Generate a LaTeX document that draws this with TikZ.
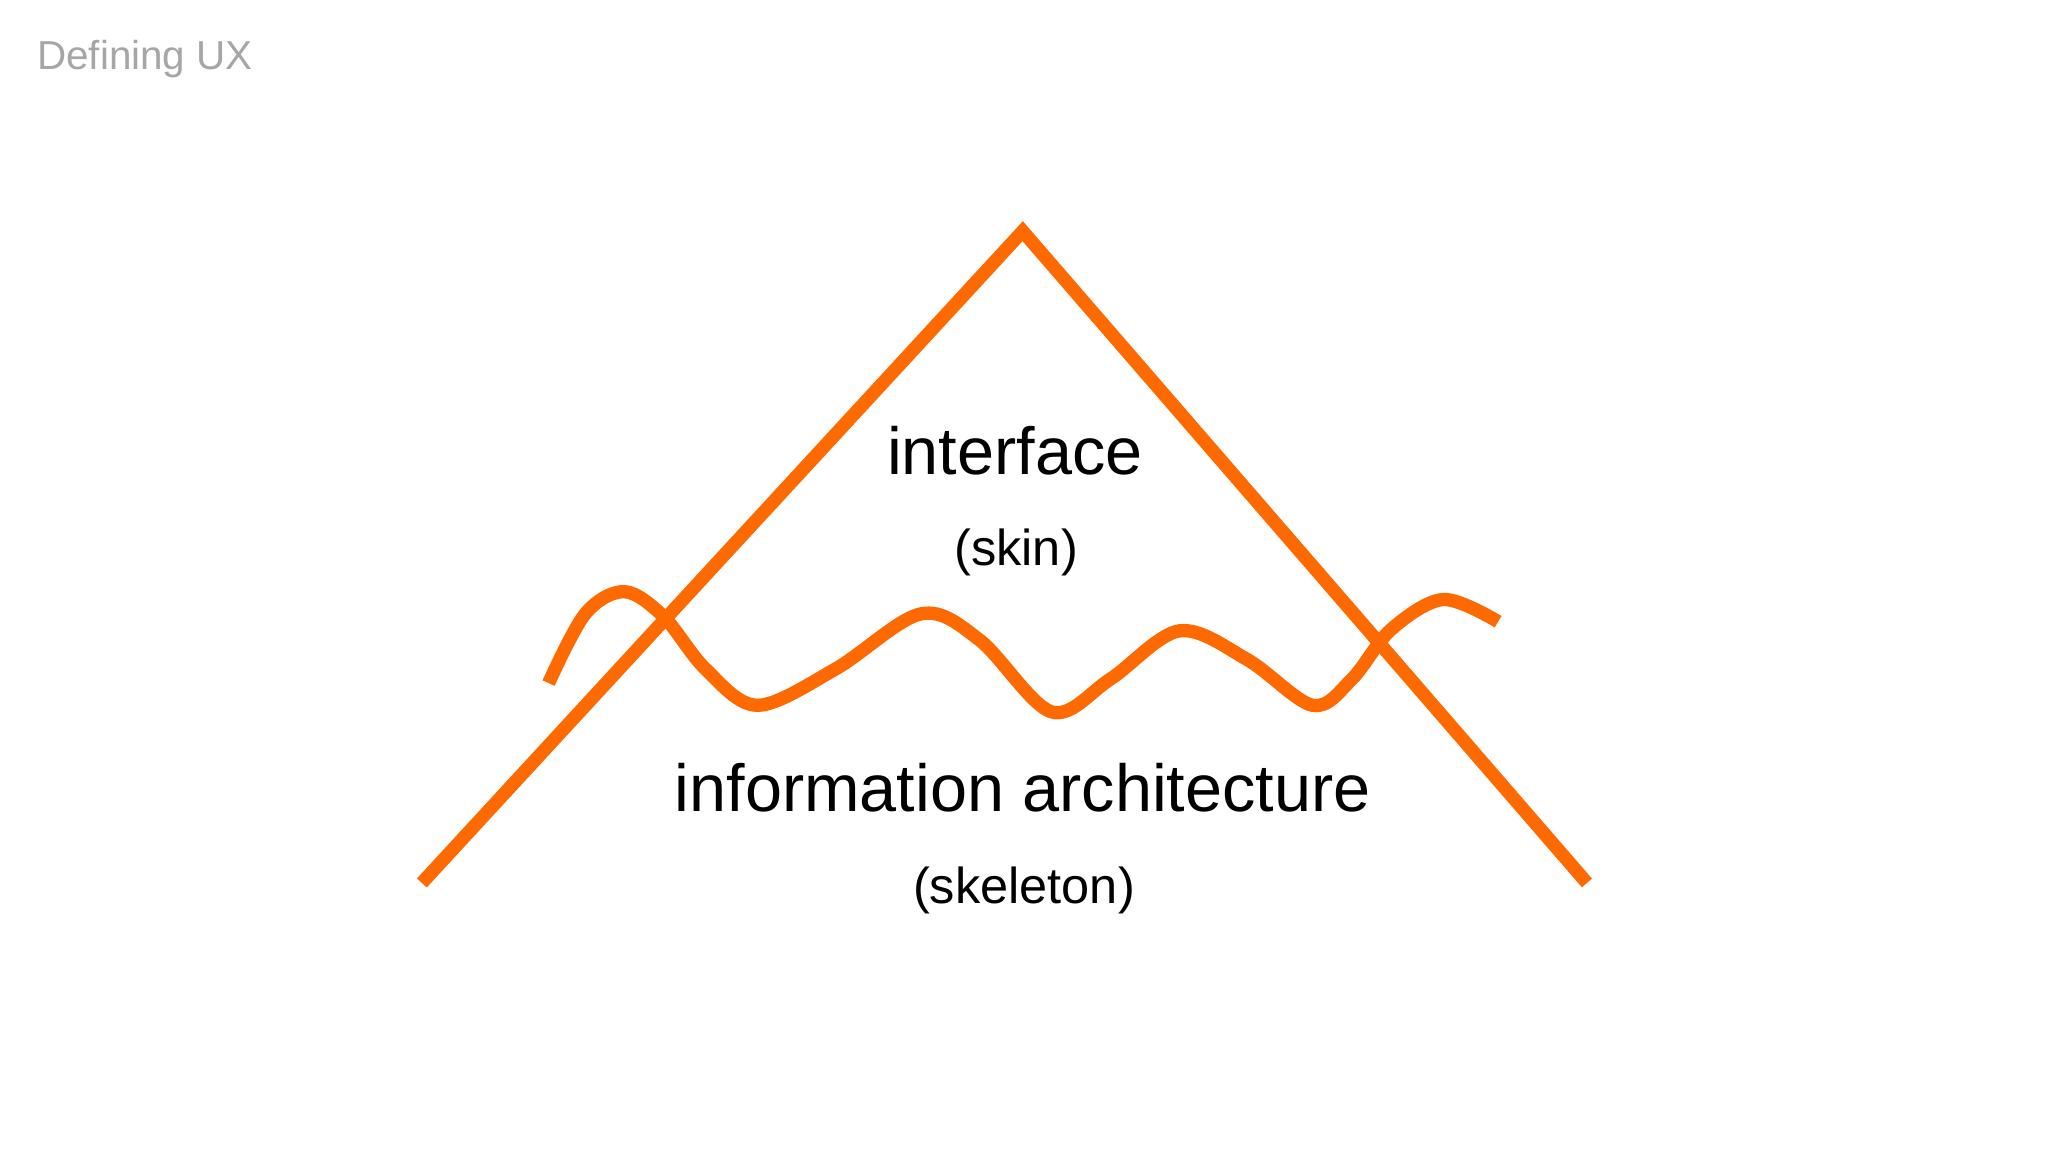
\documentclass[tikz,border=0pt]{standalone}
\usepackage{fontspec}
\setmainfont{Liberation Sans}
\definecolor{ux}{HTML}{FF6A00}
\begin{document}
\begin{tikzpicture}[x=0.01cm,y=-0.01cm,
  orange line/.style={draw=ux,line width=2.9pt},
  big/.style={font=\fontsize{14.5}{16}\selectfont},
  small/.style={font=\fontsize{11}{13}\selectfont}]
\useasboundingbox (0,0) rectangle (1568,882);
\node[text=black!35,font=\fontsize{8.8}{10}\selectfont] (title) at (111,45) {Defining UX};
\coordinate (l) at (323,676);
\coordinate (p) at (783,177);
\coordinate (r) at (1215,676);
\draw[orange line,line join=miter] (l) -- (p) -- (r);
\draw[orange line] plot[smooth,tension=0.55] coordinates {(420,523) (448,470) (478,453) (508,472) (540,512) (580,540) (640,512) (705,470) (750,490) (805,545) (850,520) (903,483) (955,505) (1005,540) (1035,520) (1065,482) (1105,459) (1147,476)};
\node[big] (a) at (777,345) {interface};
\node[small] (b) at (778,423) {(skin)};
\node[big] (c) at (783,603) {information architecture};
\node[small] (d) at (784,682) {(skeleton)};
\end{tikzpicture}
\end{document}
